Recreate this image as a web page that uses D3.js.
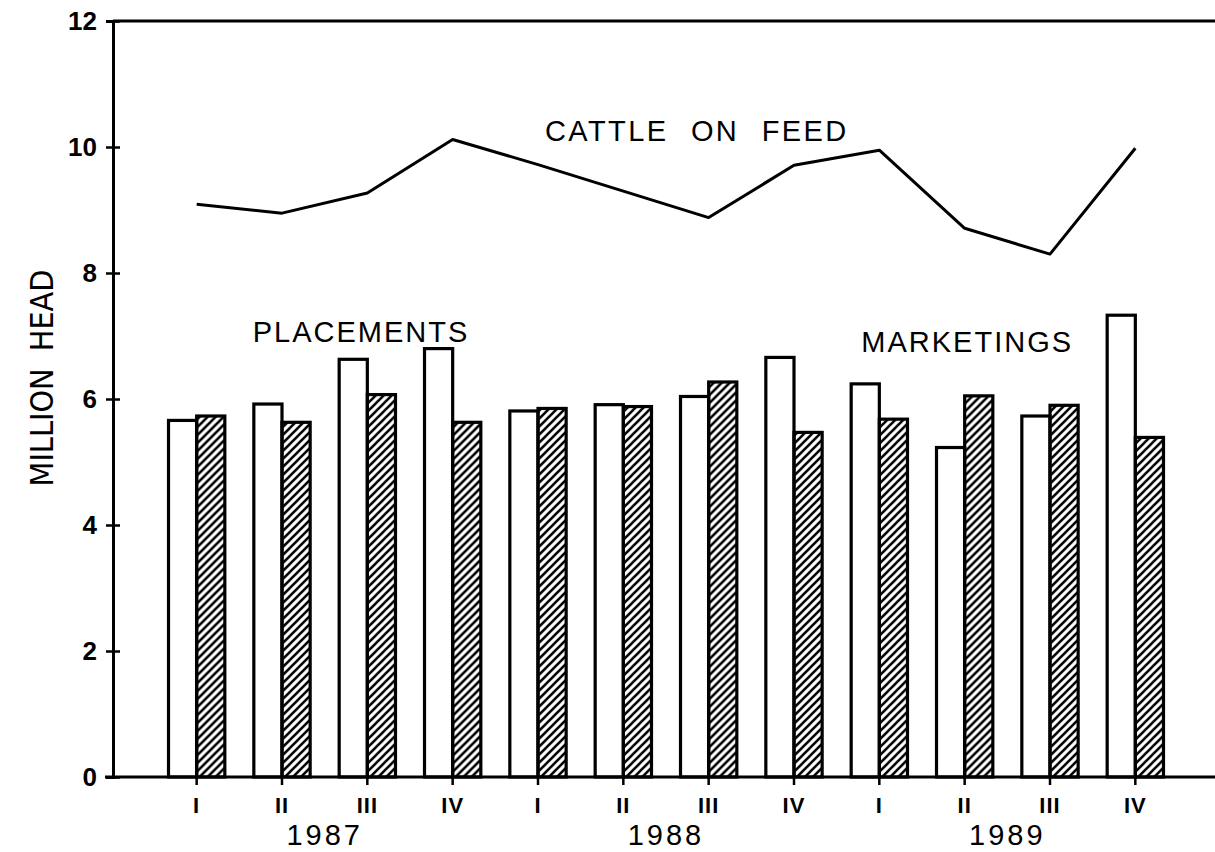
<!DOCTYPE html>
<html>
<head>
<meta charset="utf-8">
<script src="https://cdn.jsdelivr.net/npm/d3@7"></script>
<style>
  body { margin: 0; background: #fff; }
  text { font-family: "Liberation Sans", Arial, sans-serif; fill: #000; }
</style>
</head>
<body>
<div class="chart"></div>
<script>
// data
const quarters = ["I", "II", "III", "IV", "I", "II", "III", "IV", "I", "II", "III", "IV"];
const years = ["1987", "1988", "1989"];
const placements = [5.66, 5.92, 6.63, 6.80, 5.81, 5.91, 6.04, 6.66, 6.24, 5.23, 5.73, 7.33];
const marketings = [5.73, 5.63, 6.07, 5.63, 5.85, 5.88, 6.27, 5.47, 5.68, 6.05, 5.90, 5.39];
const cattleOnFeed = [9.09, 8.95, 9.27, 10.12, 9.72, 9.30, 8.88, 9.71, 9.95, 8.71, 8.30, 9.98];
const yTicks = [0, 2, 4, 6, 8, 10, 12];

const W = 1215, H = 852;
const margin = { top: 21, right: 0, bottom: 75, left: 113 };

const svg = d3.select(".chart")
  .append("svg")
  .attr("width", W)
  .attr("height", H);

// hatch for the marketings bars
svg.append("defs")
  .append("pattern")
  .attr("id", "hatch")
  .attr("patternUnits", "userSpaceOnUse")
  .attr("width", 8)
  .attr("height", 8)
  .append("path")
  .attr("d", "M-2,2 l4,-4 M0,8 l8,-8 M6,10 l4,-4")
  .attr("stroke", "#000")
  .attr("stroke-width", 2.6);

const y = d3.scaleLinear()
  .domain([0, 12])
  .range([H - margin.bottom, margin.top]);

const x = d3.scaleBand()
  .domain(d3.range(quarters.length))
  .range([154, 1178])
  .paddingInner(0.34)
  .paddingOuter(0.17);

const x1 = d3.scaleBand()
  .domain(["placements", "marketings"])
  .range([0, x.bandwidth()]);

const rows = quarters.map((q, i) => ({
  i: i,
  placements: placements[i],
  marketings: marketings[i],
  feed: cattleOnFeed[i]
}));

// bars
const groups = svg.append("g")
  .selectAll("g")
  .data(rows)
  .join("g")
  .attr("transform", d => `translate(${x(d.i)},0)`);

groups.selectAll("rect")
  .data(d => [
    { key: "placements", v: d.placements },
    { key: "marketings", v: d.marketings }
  ])
  .join("rect")
  .attr("x", d => x1(d.key))
  .attr("width", x1.bandwidth())
  .attr("y", d => y(d.v))
  .attr("height", d => y(0) - y(d.v))
  .attr("fill", d => d.key == "placements" ? "#fff" : "url(#hatch)")
  .attr("stroke", "#000")
  .attr("stroke-width", 3.2);

// cattle on feed line
svg.append("path")
  .datum(rows)
  .attr("fill", "none")
  .attr("stroke", "#000")
  .attr("stroke-width", 3)
  .attr("stroke-linejoin", "round")
  .attr("d", d3.line()
    .x(d => x(d.i) + x.bandwidth() / 2)
    .y(d => y(d.feed)));

// frame: top line and bottom baseline
svg.append("line")
  .attr("x1", margin.left).attr("x2", W)
  .attr("y1", y(12)).attr("y2", y(12))
  .attr("stroke", "#000").attr("stroke-width", 3);
svg.append("line")
  .attr("x1", margin.left - 8).attr("x2", W)
  .attr("y1", y(0)).attr("y2", y(0))
  .attr("stroke", "#000").attr("stroke-width", 3);

// y axis
const yAxis = svg.append("g")
  .attr("transform", `translate(${margin.left},0)`)
  .call(d3.axisLeft(y).tickValues(yTicks).tickSize(7).tickPadding(9));
yAxis.select(".domain").attr("stroke-width", 3);
yAxis.selectAll(".tick line").attr("x1", 7).attr("stroke-width", 2.5);
yAxis.selectAll(".tick text")
  .style("font-size", "26px")
  .style("font-weight", "bold")
  .style("font-family", "'Liberation Sans', Arial, sans-serif");

// x axis (quarters)
const xAxis = svg.append("g")
  .attr("transform", `translate(0,${y(0)})`)
  .call(d3.axisBottom(x).tickFormat(i => quarters[i]).tickSize(8).tickPadding(12));
xAxis.select(".domain").remove();
xAxis.selectAll(".tick line").attr("stroke-width", 2.5);
xAxis.selectAll(".tick text")
  .style("font-size", "22px")
  .style("font-weight", "bold")
  .style("font-family", "'Liberation Sans', Arial, sans-serif")
  .style("letter-spacing", "1px");

// years under the quarters
svg.append("g")
  .selectAll("text")
  .data(years)
  .join("text")
  .attr("x", (d, k) => (x(4 * k + 1) + x(4 * k + 2)) / 2 + x.bandwidth() / 2)
  .attr("y", 845)
  .attr("text-anchor", "middle")
  .style("font-size", "29px")
  .style("letter-spacing", "3px")
  .text(d => d);

// y axis title
svg.append("text")
  .attr("transform", "translate(53,378) rotate(-90)")
  .attr("text-anchor", "middle")
  .style("font-family", "'Liberation Sans Narrow', 'DejaVu Sans Condensed', sans-serif")
  .style("font-size", "32px")
  .style("word-spacing", "8px")
  .text("MILLION HEAD");

// series labels, anchored to a quarter and nudged in pixels
const labels = [
  { text: "CATTLE ON FEED", i: 4, v: 10.1, dx: 7, ls: 2.4, ws: 12 },
  { text: "PLACEMENTS", i: 0, v: 6.9, dx: 56, ls: 2, ws: 0 },
  { text: "MARKETINGS", i: 8, v: 6.75, dx: -18, ls: 2, ws: 0 }
];
svg.append("g")
  .selectAll("text")
  .data(labels)
  .join("text")
  .attr("x", d => x(d.i) + x.bandwidth() / 2 + d.dx)
  .attr("y", d => y(d.v))
  .style("font-size", "29px")
  .style("letter-spacing", d => d.ls + "px")
  .style("word-spacing", d => d.ws + "px")
  .text(d => d.text);
</script>
</body>
</html>
